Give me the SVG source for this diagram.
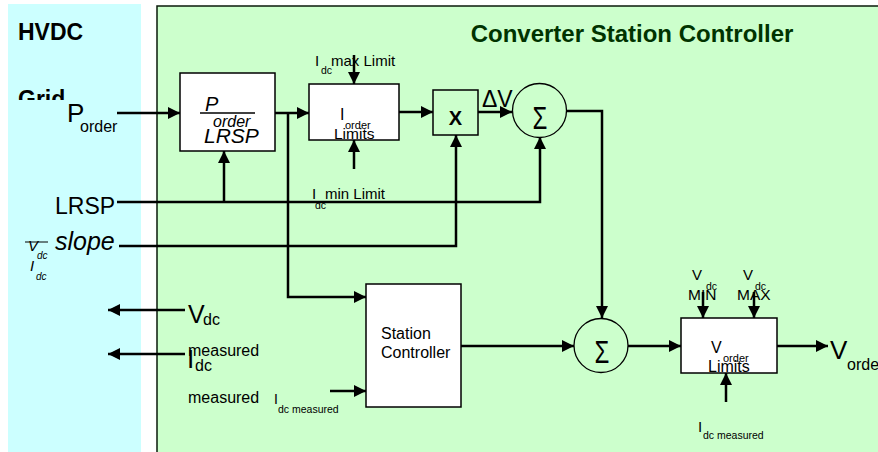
<svg xmlns="http://www.w3.org/2000/svg" width="878" height="452" viewBox="0 0 878 452">
<style>
text{font-family:"Liberation Sans",Arial,sans-serif;fill:#000}
.w{stroke:#000;stroke-width:2.5;fill:none}
.a{stroke:#000;stroke-width:2.5;fill:none;marker-end:url(#ah)}
.blk{fill:#fff;stroke:#000;stroke-width:1.5}
.sum{fill:none;stroke:#000;stroke-width:1.3}
.it{font-style:italic}
</style>
<defs>
<marker id="ah" markerUnits="userSpaceOnUse" markerWidth="14" markerHeight="14" refX="12" refY="6" orient="auto">
<path d="M0,0 L12,6 L0,12 Z" fill="#000"/>
</marker>
<clipPath id="gc"><rect x="0" y="0" width="140" height="100"/></clipPath>
</defs>
<g id="grid-area">
<rect x="8" y="4" width="133" height="448" fill="#CCFFFF"/>
<text x="18" y="40" font-size="23" font-weight="bold">HVDC</text>
<text x="18" y="107" font-size="23" font-weight="bold" clip-path="url(#gc)">Grid</text>
</g>
<g id="controller-area">
<rect x="157" y="6" width="730" height="460" fill="#CCFFCC" stroke="#0a1a0a" stroke-width="1.5"/>
<text x="632" y="42" font-size="24" font-weight="bold" text-anchor="middle" style="fill:#003300">Converter Station Controller</text>
</g>
<g id="connectors">
<line class="a" x1="117" y1="113" x2="180" y2="113"/>
<line class="a" x1="275" y1="113" x2="309" y2="113"/>
<polyline class="a" points="288,113 288,297 366,297"/>
<line class="a" x1="399" y1="112" x2="433" y2="112"/>
<line class="a" x1="478" y1="112" x2="512" y2="112"/>
<line class="a" x1="354" y1="55" x2="354" y2="84"/>
<line class="a" x1="354" y1="169" x2="354" y2="140"/>
<polyline class="a" points="117,202 540,202 540,137"/>
<line class="a" x1="224" y1="202" x2="224" y2="151"/>
<polyline class="a" points="119,246 456,246 456,135"/>
<polyline class="a" points="566,111 602,111 602,318"/>
<line class="a" x1="185" y1="310" x2="108" y2="310"/>
<line class="a" x1="185" y1="354" x2="108" y2="354"/>
<line class="a" x1="330" y1="391" x2="366" y2="391"/>
<line class="a" x1="461" y1="346" x2="574" y2="346"/>
<line class="a" x1="628" y1="346" x2="681" y2="346"/>
<line class="a" x1="703" y1="292" x2="703" y2="318"/>
<line class="a" x1="754" y1="292" x2="754" y2="318"/>
<line class="a" x1="726" y1="402" x2="726" y2="373"/>
<line class="a" x1="777" y1="346" x2="828" y2="346"/>
</g>
<g id="p-order-label">
<text x="67" y="122" font-size="26">P</text>
<text x="80" y="132" font-size="16">order</text>
</g>
<g id="lrsp-block">
<rect class="blk" x="180" y="73" width="95" height="78"/>
<text x="205" y="111" font-size="20" class="it">P</text>
<line x1="200" y1="113" x2="255" y2="113" stroke="#000" stroke-width="1.5"/>
<text x="213" y="127" font-size="16" class="it">order</text>
<text x="204" y="143" font-size="21" class="it">LRSP</text>
</g>
<g id="iorder-limits">
<rect class="blk" x="309" y="84" width="90" height="56"/>
<text x="340" y="120" font-size="16">I</text>
<text x="345" y="129" font-size="11">order</text>
<text x="334" y="139" font-size="15.5">Limits</text>
<text x="315" y="66" font-size="15">I</text>
<text x="321" y="74" font-size="10.5">dc</text>
<text x="331" y="66" font-size="15">max Limit</text>
<text x="312" y="199" font-size="15">I</text>
<text x="315" y="209" font-size="10.5">dc</text>
<text x="325" y="199" font-size="15">min Limit</text>
</g>
<g id="multiplier">
<rect x="433" y="90" width="45" height="45" fill="none" stroke="#000" stroke-width="1.5"/>
<text x="455.5" y="125" font-size="20" font-weight="bold" text-anchor="middle">X</text>
<text x="482" y="107" font-size="23">ΔV</text>
</g>
<g id="sum1">
<circle class="sum" cx="539.5" cy="110.5" r="27"/>
<text transform="translate(540,129) scale(1,1.3)" font-size="24" text-anchor="middle">Σ</text>
</g>
<g id="lrsp-input">
<text x="55" y="214" font-size="23">LRSP</text>
</g>
<g id="slope-input">
<text x="55" y="250" font-size="25" class="it">slope</text>
<line x1="25" y1="242" x2="48" y2="242" stroke="#000" stroke-width="1"/>
<text x="28" y="251" font-size="15" class="it">V</text>
<text x="37" y="259" font-size="10" class="it">dc</text>
<text x="30" y="271" font-size="15" class="it">I</text>
<text x="36" y="280" font-size="10" class="it">dc</text>
</g>
<g id="vdc-output">
<text x="188" y="323" font-size="25">V</text>
<text x="203" y="325" font-size="16">dc</text>
</g>
<g id="idc-output">
<text x="187" y="368" font-size="26">I</text>
<text x="195" y="371" font-size="16">dc</text>
<text x="188" y="356" font-size="16">measured</text>
</g>
<g id="idc-measured-input">
<text x="188" y="403" font-size="16">measured</text>
<text x="274" y="404" font-size="14">I</text>
<text x="278" y="413" font-size="10.5">dc measured</text>
</g>
<g id="station-controller">
<rect class="blk" x="366" y="284" width="95" height="123"/>
<text x="381" y="339" font-size="16">Station</text>
<text x="381" y="358" font-size="16">Controller</text>
</g>
<g id="sum2">
<circle class="sum" cx="601" cy="345.5" r="27"/>
<text transform="translate(602,363) scale(1,1.3)" font-size="24" text-anchor="middle">Σ</text>
</g>
<g id="vorder-limits">
<rect class="blk" x="681" y="318" width="96" height="55"/>
<text x="711" y="353" font-size="16">V</text>
<text x="723" y="362" font-size="11">order</text>
<text x="708" y="372" font-size="16">Limits</text>
<text x="692" y="280" font-size="15">V</text>
<text x="706" y="290" font-size="10.5">dc</text>
<text x="688" y="300" font-size="15.5">MIN</text>
<text x="743" y="280" font-size="15">V</text>
<text x="755" y="290" font-size="10.5">dc</text>
<text x="737" y="300" font-size="15.5">MAX</text>
<text x="698" y="432" font-size="15">I</text>
<text x="703" y="439" font-size="10.5">dc measured</text>
</g>
<g id="vorder-output">
<text x="830" y="359" font-size="26">V</text>
<text x="847" y="370" font-size="16">order</text>
</g>
</svg>
